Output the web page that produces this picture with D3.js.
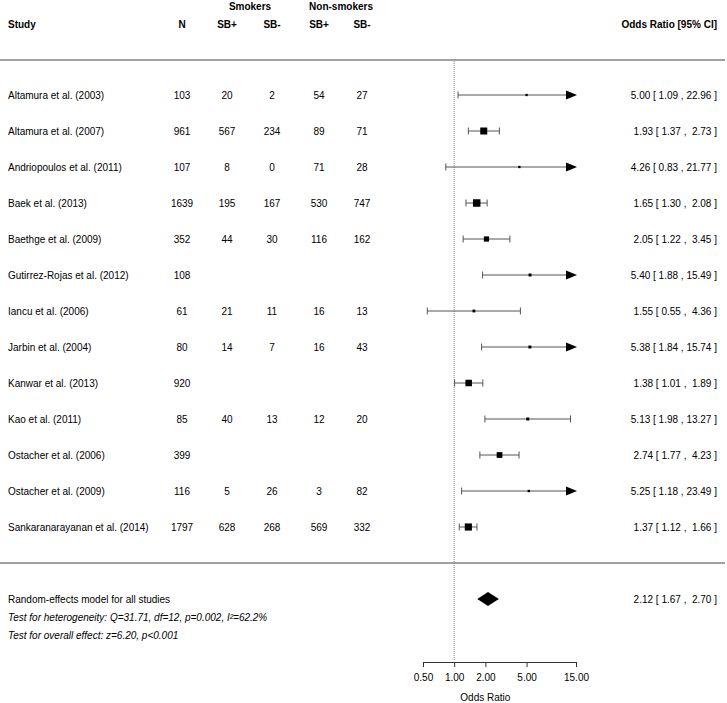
<!DOCTYPE html>
<html>
<head>
<meta charset="utf-8">
<script src="https://cdn.jsdelivr.net/npm/d3@7"></script>
<style>
  html, body { margin: 0; padding: 0; background: #fff; }
  text { font-family: "Liberation Sans", Arial, sans-serif; fill: #000; }
</style>
</head>
<body>
<svg id="chart" width="727" height="703"></svg>
<script>
const studies = ["Altamura et al. (2003)", "Altamura et al. (2007)", "Andriopoulos et al. (2011)", "Baek et al. (2013)",
  "Baethge et al. (2009)", "Gutirrez-Rojas et al. (2012)", "Iancu et al. (2006)", "Jarbin et al. (2004)",
  "Kanwar et al. (2013)", "Kao et al. (2011)", "Ostacher et al. (2006)", "Ostacher et al. (2009)",
  "Sankaranarayanan et al. (2014)"];
const nTotal = [103, 961, 107, 1639, 352, 108, 61, 80, 920, 85, 399, 116, 1797];
const smokersSBpos = [20, 567, 8, 195, 44, null, 21, 14, null, 40, null, 5, 628];
const smokersSBneg = [2, 234, 0, 167, 30, null, 11, 7, null, 13, null, 26, 268];
const nonSmokersSBpos = [54, 89, 71, 530, 116, null, 16, 16, null, 12, null, 3, 569];
const nonSmokersSBneg = [27, 71, 28, 747, 162, null, 13, 43, null, 20, null, 82, 332];
const oddsRatio = [5.00, 1.93, 4.26, 1.65, 2.05, 5.40, 1.55, 5.38, 1.38, 5.13, 2.74, 5.25, 1.37];
const ciLower = [1.09, 1.37, 0.83, 1.30, 1.22, 1.88, 0.55, 1.84, 1.01, 1.98, 1.77, 1.18, 1.12];
const ciUpper = [22.96, 2.73, 21.77, 2.08, 3.45, 15.49, 4.36, 15.74, 1.89, 13.27, 4.23, 23.49, 1.66];
const weights = [2.2, 11.5, 2.2, 12.5, 8.0, 3.5, 3.2, 3.5, 10.5, 3.6, 9.0, 2.3, 11.8];
const pooled = { or: 2.12, lower: 1.67, upper: 2.70 };
const axisTicks = [0.5, 1, 2, 5, 15];
const summaryLabel = "Random-effects model for all studies";
const heterogeneityText = "Test for heterogeneity: Q=31.71, df=12, p=0.002, I\u00B2=62.2%";
const overallText = "Test for overall effect: z=6.20, p<0.001";

const svg = d3.select("#chart");
const FS = 10;

const x = d3.scaleLog().domain([0.5, 15]).range([423, 576]);
const y = d3.scalePoint().domain(d3.range(studies.length)).range([95, 95 + 36 * (studies.length - 1)]);
const boxSize = d3.scaleLinear().domain([2, 12.5]).range([2.2, 7.5]);

const f2 = d3.format(".2f");
function ciText(o, l, u) {
  const us = f2(u);
  return f2(o) + " [ " + f2(l) + " , " + (us.length < 5 ? " " : "") + us + " ]";
}

// header
const hdr = svg.append("g").attr("font-weight", "bold").attr("font-size", FS);
hdr.append("text").attr("x", 8).attr("y", 24).attr("dy", "0.35em").text("Study");
const colX = [182, 227, 272, 319, 362];
const colHead = ["N", "SB+", "SB-", "SB+", "SB-"];
colHead.forEach((h, i) => hdr.append("text").attr("x", colX[i]).attr("y", 24).attr("dy", "0.35em").attr("text-anchor", "middle").text(h));
hdr.append("text").attr("x", 250).attr("y", 6).attr("dy", "0.35em").attr("text-anchor", "middle").text("Smokers");
hdr.append("text").attr("x", 341).attr("y", 6).attr("dy", "0.35em").attr("text-anchor", "middle").text("Non-smokers");
hdr.append("text").attr("x", 717).attr("y", 24).attr("dy", "0.35em").attr("text-anchor", "end").text("Odds Ratio [95% CI]");

// separator lines
svg.append("line").attr("x1", 0).attr("x2", 725).attr("y1", 60).attr("y2", 60).attr("stroke", "#808080").attr("stroke-width", 1.3);
svg.append("line").attr("x1", 0).attr("x2", 725).attr("y1", 563).attr("y2", 563).attr("stroke", "#808080").attr("stroke-width", 1.3);

// reference line at OR=1
svg.append("line").attr("x1", x(1)).attr("x2", x(1)).attr("y1", 61).attr("y2", 660)
  .attr("stroke", "#888").attr("stroke-width", 1).attr("stroke-dasharray", "1,1");

// table text
const cols = [nTotal, smokersSBpos, smokersSBneg, nonSmokersSBpos, nonSmokersSBneg];
const rows = svg.append("g").attr("font-size", FS);
studies.forEach((s, i) => {
  const yy = y(i);
  rows.append("text").attr("x", 8).attr("y", yy).attr("dy", "0.35em").text(s);
  cols.forEach((c, j) => {
    if (c[i] !== null) rows.append("text").attr("x", colX[j]).attr("y", yy).attr("dy", "0.35em").attr("text-anchor", "middle").text(c[i]);
  });
  rows.append("text").attr("x", 717).attr("y", yy).attr("dy", "0.35em").attr("text-anchor", "end")
    .style("white-space", "pre").text(ciText(oddsRatio[i], ciLower[i], ciUpper[i]));
});

// CI marks
const [dMin, dMax] = x.domain();
const marks = svg.append("g");
studies.forEach((s, i) => {
  const yy = y(i);
  const lo = Math.max(ciLower[i], dMin), hi = Math.min(ciUpper[i], dMax);
  const clippedHi = ciUpper[i] > dMax;
  const x1 = x(lo), x2 = clippedHi ? x(dMax) - 9 : x(hi);
  marks.append("line").attr("x1", x1).attr("x2", x2).attr("y1", yy).attr("y2", yy).attr("stroke", "#555").attr("stroke-width", 1);
  marks.append("line").attr("x1", x1).attr("x2", x1).attr("y1", yy - 3.5).attr("y2", yy + 3.5).attr("stroke", "#555").attr("stroke-width", 1);
  if (clippedHi) {
    const tip = x(dMax) + 1;
    marks.append("path").attr("d", `M${tip - 11},${yy - 4.5}L${tip},${yy}L${tip - 11},${yy + 4.5}Z`).attr("fill", "#000");
  } else {
    marks.append("line").attr("x1", x2).attr("x2", x2).attr("y1", yy - 3.5).attr("y2", yy + 3.5).attr("stroke", "#555").attr("stroke-width", 1);
  }
  const b = boxSize(weights[i]);
  marks.append("rect").attr("x", x(oddsRatio[i]) - b / 2).attr("y", yy - b / 2).attr("width", b).attr("height", b).attr("fill", "#000");
});

// summary
const ySum = 599;
svg.append("text").attr("x", 8).attr("y", ySum).attr("dy", "0.35em").attr("font-size", FS).text(summaryLabel);
svg.append("text").attr("x", 8).attr("y", 617).attr("dy", "0.35em").attr("font-size", FS).attr("font-style", "italic").text(heterogeneityText);
svg.append("text").attr("x", 8).attr("y", 635).attr("dy", "0.35em").attr("font-size", FS).attr("font-style", "italic").text(overallText);
svg.append("path")
  .attr("d", `M${x(pooled.lower)},${ySum}L${x(pooled.or)},${ySum - 7}L${x(pooled.upper)},${ySum}L${x(pooled.or)},${ySum + 7}Z`)
  .attr("fill", "#000");
svg.append("text").attr("x", 717).attr("y", ySum).attr("dy", "0.35em").attr("font-size", FS).attr("text-anchor", "end")
  .style("white-space", "pre").text(ciText(pooled.or, pooled.lower, pooled.upper));

// axis
const axisG = svg.append("g").attr("transform", "translate(0,662)")
  .call(d3.axisBottom(x).tickValues(axisTicks).tickFormat(f2).tickSize(5).tickSizeOuter(0));
axisG.select(".domain").attr("stroke", "#333");
axisG.selectAll(".tick line").attr("stroke", "#333");
axisG.selectAll(".tick text").attr("font-size", FS).attr("font-family", "Liberation Sans, Arial, sans-serif").attr("fill", "#000").attr("y", 12);
svg.append("text").attr("x", x(2)).attr("y", 697).attr("dy", "0.35em").attr("font-size", FS).attr("text-anchor", "middle").text("Odds Ratio");
</script>
</body>
</html>
